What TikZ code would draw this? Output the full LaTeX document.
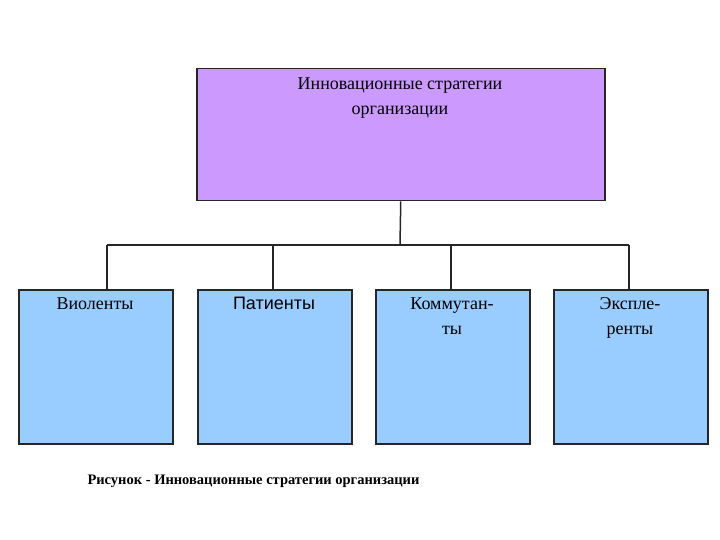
\documentclass[tikz,border=0pt]{standalone}
\usepackage{fontspec}
\setmainfont{Liberation Serif}
\newfontfamily\arialf{Liberation Sans}
\begin{document}
\begin{tikzpicture}[x=1pt,y=-1pt,
  topbox/.style={draw=black!85,line width=1.5pt,fill={rgb,255:red,204;green,153;blue,255},minimum width=408pt,minimum height=132pt,anchor=north west,inner sep=0pt},
  lowbox/.style={draw=black!85,line width=1.5pt,fill={rgb,255:red,153;green,204;blue,255},minimum width=154pt,minimum height=154pt,anchor=north west,inner sep=0pt},
  lbl/.style={font=\fontsize{18}{25}\selectfont,align=center,anchor=north},
  conn/.style={line width=1.5pt,draw=black!85}]
\useasboundingbox (0,0) rectangle (720,540);
\node[topbox] (top) at (196,68) {};
\node[lowbox] (b1) at (18,289) {};
\node[lowbox] (b2) at (197,289) {};
\node[lowbox] (b3) at (375,289) {};
\node[lowbox] (b4) at (553,289) {};
\node[lbl] at (400,74) {Инновационные стратегии\\организации};
\node[lbl] at (95,294) {Виоленты};
\node[lbl,font=\arialf\fontsize{18}{25}\selectfont] at (274,294) {Патиенты};
\node[lbl] at (452,294) {Коммутан-\\ты};
\node[lbl] at (630,294) {Экспле-\\ренты};
\coordinate (j) at (400,245);
\coordinate (l) at (107,245);
\coordinate (r) at (629,245);
\draw[conn] (top.south) -- (j);
\draw[conn] (l) -- (r);
\draw[conn] (l) -- (l |- b1.north);
\draw[conn] (273,245) -- (273,289);
\draw[conn] (451,245) -- (451,289);
\draw[conn] (r) -- (r |- b4.north);
\node[font=\bfseries\fontsize{14.5}{17}\selectfont,anchor=west] (cap) at (84,481) {Рисунок - Инновационные стратегии организации};
\end{tikzpicture}
\end{document}
